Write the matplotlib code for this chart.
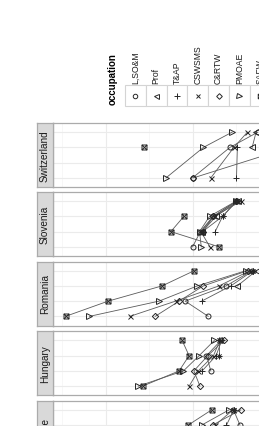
import numpy as np
import matplotlib
matplotlib.use("Agg")
import matplotlib.pyplot as plt
from matplotlib.path import Path
from matplotlib.patches import Rectangle

plt.rcParams['font.family'] = ['Liberation Sans', 'DejaVu Sans']

nan = np.nan

occupations = ["L,SO&M", "Prof", "T&AP", "CSWSMS", "C&RTW", "PMOAE", "SAFW", "EO"]
categories = ["I", "II", "III", "IV"]
countries = ["Switzerland", "Slovenia", "Romania", "Hungary", "France"]

# one row per occupation, one value per category
switzerland = [
    [40.1, nan, 31.5, 25.1],
    [nan, nan, 26.4, 25.5],
    [30.0, nan, 29.8, nan],
    [35.9, nan, 30.6, 27.5],
    [39.9, nan, 17.7, nan],
    [46.2, nan, 37.6, 31.0],
    [nan, nan, 51.3, nan],
    [nan, nan, nan, nan],
]
slovenia = [
    [40.1, 38.3, 35.4, 29.9],
    [nan, 37.9, 34.7, 29.7],
    [nan, 34.9, 33.2, 29.9],
    [36.1, 38.2, 35.2, 28.9],
    [nan, 37.7, 35.3, 30.0],
    [38.1, 38.5, 36.2, 30.1],
    [34.0, 45.1, 42.1, nan],
    [nan, 37.8, 33.2, 30.0],
]
romania = [
    [36.5, 41.8, 32.4, 26.4],
    [nan, nan, 29.8, 25.4],
    [nan, 38.0, 31.3, 26.2],
    [54.5, 44.0, 34.0, 26.9],
    [48.7, 43.2, 37.6, 27.4],
    [63.8, 47.8, 39.0, 27.8],
    [69.3, 59.5, 47.1, 39.7],
    [nan, nan, nan, 26.3],
]
hungary = [
    [nan, 35.9, 36.9, 33.6],
    [nan, nan, nan, nan],
    [nan, 37.9, 34.7, 33.4],
    [40.9, 38.8, 35.3, 33.8],
    [38.4, 39.8, 36.6, 32.9],
    [52.6, 42.2, 38.6, 35.1],
    [51.6, 43.2, 40.9, 42.5],
    [nan, nan, 34.0, 34.0],
]
france = [
    [nan, nan, 29.2, 30.7],
    [nan, nan, nan, nan],
    [nan, nan, 32.3, 30.6],
    [nan, nan, 34.9, 30.8],
    [nan, nan, 35.5, 29.0],
    [nan, nan, 38.0, 31.7],
    [nan, nan, 41.1, 35.7],
    [nan, nan, nan, 30.5],
]
country_data = [switzerland, slovenia, romania, hungary, france]

# ---------- styling ----------
W, H = 259, 427
fig = plt.figure(figsize=(W / 100, H / 100), dpi=100)

def rect(x0, y0, x1, y1):
    return [x0 / W, 1 - y1 / H, (x1 - x0) / W, (y1 - y0) / H]

M, L, C = Path.MOVETO, Path.LINETO, Path.CLOSEPOLY
sqx = Path([(-1, -1), (1, -1), (1, 1), (-1, 1), (-1, -1), (-1, -1), (1, 1), (-1, 1), (1, -1)],
           [M, L, L, L, C, M, L, M, L])
ast = Path([(-1, 0), (1, 0), (0, -1), (0, 1), (-0.7, -0.7), (0.7, 0.7), (-0.7, 0.7), (0.7, -0.7)],
           [M, L, M, L, M, L, M, L])
mk = [('o', 3.6), ('<', 4.0), ('+', 4.4), ('x', 3.6), ('D', 3.2), ('>', 4.0), (sqx, 3.6), (ast, 4.4)]
MCOL = '#262626'
LCOL = '#5a5a5a'
BORDER = '#ababab'

def px2v(px):
    return 60 - (px - 106) / 4.35

panel_tops = [124, 193, 262.5, 332.3, 401.7]
PH = 64
x_left, x_right = 53, 345

for country, data, top in zip(countries, country_data, panel_tops):
    ax = fig.add_axes(rect(x_left, top, x_right, top + PH))
    ax.set_xlim(px2v(x_left), px2v(x_right))
    ax.set_ylim(-0.6, 3.6)
    for g in [70, 50, 30, 10]:
        ax.axvline(g, color='#f2f2f2', lw=0.4, zorder=0)
    for g in [60, 40, 20]:
        ax.axvline(g, color='#ebebeb', lw=0.8, zorder=0)
    for r in range(4):
        ax.axhline(r, color='#ebebeb', lw=0.8, zorder=0)
    yy = np.arange(len(categories))
    for i, occ in enumerate(occupations):
        vals = np.array(data[i], dtype=float)
        m = ~np.isnan(vals)
        if m.sum() > 1:
            ax.plot(vals[m], yy[m], color=LCOL, lw=0.6, zorder=2)
    for i, occ in enumerate(occupations):
        vals = np.array(data[i], dtype=float)
        m = ~np.isnan(vals)
        mkr, ms = mk[i]
        ax.plot(vals[m], yy[m], ls='none', marker=mkr, ms=ms, mfc='none',
                mec=MCOL, mew=0.7, zorder=3)
    ax.set_xticks([]); ax.set_yticks([])
    for s in ax.spines.values():
        s.set_color(BORDER); s.set_linewidth(0.9)
    # strip
    sa = fig.add_axes(rect(37, top, 53, top + PH))
    sa.set_facecolor('#d9d9d9')
    sa.set_xticks([]); sa.set_yticks([])
    for s in sa.spines.values():
        s.set_color(BORDER); s.set_linewidth(0.9)
    sa.text(0.5, 0.5, country, rotation=90, ha='center', va='center',
            fontsize=7.2, color='#1a1a1a', transform=sa.transAxes)

# ---------- legend ----------
lg = fig.add_axes([0, 0, 1, 1], zorder=5)
lg.set_xlim(0, W); lg.set_ylim(H, 0)
lg.axis('off')
lg.text(113, 79, "occupation", rotation=90, ha='center', va='center',
        fontsize=7.0, fontweight='bold', color='black')
kw = 20.8
for i, occ in enumerate(occupations):
    x0 = 125 + i * kw
    lg.add_patch(Rectangle((x0, 86), kw, 21, facecolor='white', edgecolor='#d4d4d4', lw=0.8))
    mkr, ms = mk[i]
    lg.plot([x0 + kw / 2], [96.5], ls='none', marker=mkr, ms=ms * 0.9, mfc='none', mec=MCOL, mew=0.7)
    lg.text(x0 + kw / 2, 83.5, occ, rotation=90, ha='center', va='bottom',
            fontsize=6.2, color='#1a1a1a')

fig.savefig("out.png", dpi=100)
